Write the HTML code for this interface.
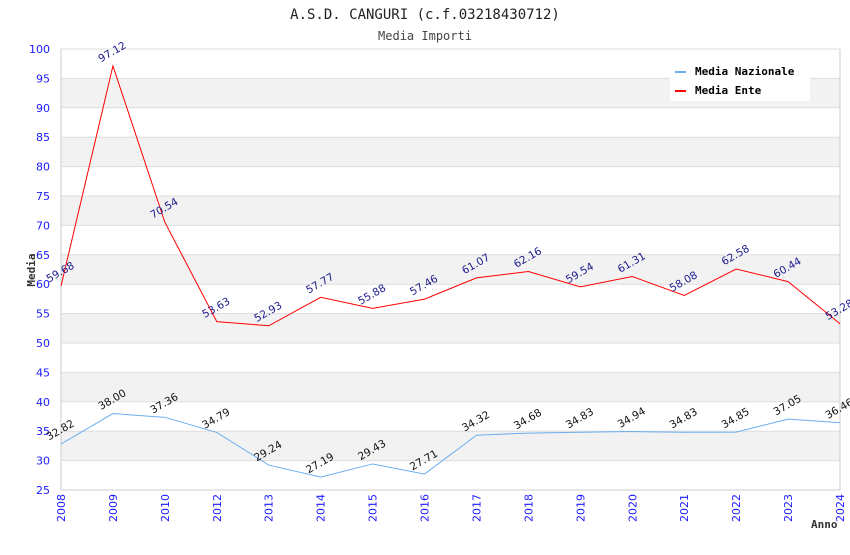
<!DOCTYPE html>
<html><head><meta charset="utf-8"><style>
body{margin:0;background:#fff}
svg text{font-family:"DejaVu Sans","Liberation Sans",sans-serif}
</style></head><body>
<svg id="c" width="850" height="550" xmlns="http://www.w3.org/2000/svg">
<text x="425" y="19" text-anchor="middle" font-size="14" style="font-family:'DejaVu Sans Mono','Liberation Mono',monospace" fill="#222">A.S.D. CANGURI (c.f.03218430712)</text>
<text x="425" y="40" text-anchor="middle" font-size="12" style="font-family:'DejaVu Sans Mono','Liberation Mono',monospace" fill="#444">Media Importi</text>
<g id="grid"></g><g id="series"></g><g id="labels"></g>
<text transform="translate(35,270) rotate(-90)" text-anchor="middle" font-size="11" font-weight="bold" style="font-family:'DejaVu Sans Mono','Liberation Mono',monospace" fill="#333">Media</text>
<text x="811" y="528" font-size="11" font-weight="bold" style="font-family:'DejaVu Sans Mono','Liberation Mono',monospace" fill="#333">Anno</text>
<g>
<rect x="670" y="60" width="140" height="41" fill="#fff"/>
<line x1="675" y1="72" x2="686" y2="72" stroke="#6aaef0" stroke-width="2"/>
<text x="695" y="75" font-size="11" font-weight="bold" style="font-family:'DejaVu Sans Mono','Liberation Mono',monospace" fill="#000">Media Nazionale</text>
<line x1="675" y1="91" x2="686" y2="91" stroke="#f00" stroke-width="2"/>
<text x="695" y="94" font-size="11" font-weight="bold" style="font-family:'DejaVu Sans Mono','Liberation Mono',monospace" fill="#000">Media Ente</text>
</g>
</svg>
<script>
const categories=["2008","2009","2010","2012","2013","2014","2015","2016","2017","2018","2019","2020","2021","2022","2023","2024"];
const nazionale=[32.82,38.00,37.36,34.79,29.24,27.19,29.43,27.71,34.32,34.68,34.83,34.94,34.83,34.85,37.05,36.46];
const ente=[59.68,97.12,70.54,53.63,52.93,57.77,55.88,57.46,61.07,62.16,59.54,61.31,58.08,62.58,60.44,53.28];
const yTicks=[25,30,35,40,45,50,55,60,65,70,75,80,85,90,95,100];
const NS="http://www.w3.org/2000/svg";
const L=61,R=840,T=49,B=490,yMin=25,yMax=100;
const xs=i=>L+i*(R-L)/(categories.length-1);
const ys=v=>B-(v-yMin)/(yMax-yMin)*(B-T);
function mk(t,a,p){const e=document.createElementNS(NS,t);for(const k in a)e.setAttribute(k,a[k]);p.appendChild(e);return e;}
const grid=document.getElementById('grid');
for(let i=0;i<yTicks.length-1;i++){
  const v=yTicks[i];
  if(v%10===0){const r=mk('rect',{x:L,y:ys(v+5),width:R-L,height:ys(v)-ys(v+5),fill:'#f2f2f2'},grid);
  
  }
}
yTicks.forEach(v=>{
  const l=mk('line',{x1:L,x2:R,y1:ys(v),y2:ys(v),stroke:'#ddd'},grid);
  
  
  const t=mk('text',{x:L-11,y:ys(v)+4,'text-anchor':'end','font-size':11,fill:'#1a1aff'},grid);
  t.textContent=v;
  
  
});
const ax=mk('path',{d:`M${L} ${T}V${B}H${R}V${T}`,fill:'none',stroke:'#ccc'},grid);


categories.forEach((c,i)=>{
  const t=mk('text',{transform:`translate(${xs(i)+4},${B+4}) rotate(-90)`,'text-anchor':'end','font-size':11,fill:'#1a1aff'},grid);
  t.textContent=c;
  
  
});
const sg=document.getElementById('series'),lg=document.getElementById('labels');
function draw(data,color,lc,name){
  const p=mk('polyline',{points:data.map((v,i)=>xs(i)+','+ys(v)).join(' '),fill:'none',stroke:color,'stroke-width':1},sg);
  
  
  data.forEach((v,i)=>{
    const t=mk('text',{transform:`translate(${xs(i)+1},${ys(v)-11}) rotate(-30)`,'text-anchor':'middle','font-size':10.5,fill:lc},lg);
    t.textContent=v.toFixed(2);
    
    
  });
}
draw(nazionale,'#6aaef0','#111','nazionale');
draw(ente,'#f00','#1a1a8c','ente');
</script>
</body></html>
